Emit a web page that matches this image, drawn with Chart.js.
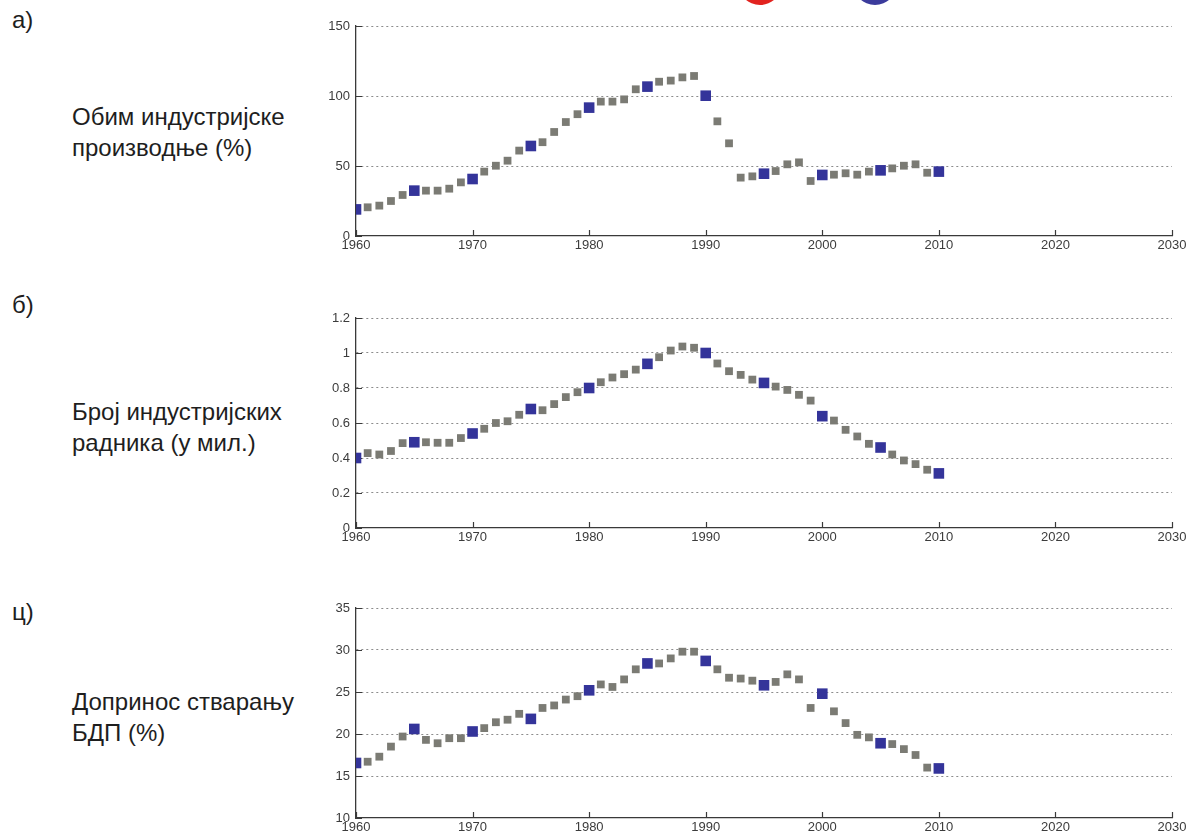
<!DOCTYPE html>
<html>
<head>
<meta charset="utf-8">
<script src="https://cdn.jsdelivr.net/npm/chart.js@4.4.1/dist/chart.umd.min.js"></script>
<style>
  body {
    margin: 0;
    width: 1190px;
    height: 838px;
    overflow: hidden;
    background: #fff;
    position: relative;
    font-family: 'Liberation Sans', Arial, sans-serif;
    color: #1e1e1e;
  }
  .letter { position: absolute; left: 12px; font-size: 24px; line-height: 26px; }
  .label { position: absolute; left: 72px; font-size: 24px; line-height: 31px; white-space: nowrap; }
  canvas { position: absolute; left: 0; }
  .marker { position: absolute; width: 44px; height: 44px; top: -39px; border-radius: 50%; }
</style>
</head>
<body>
<div class="marker" style="left:738px; background:#e2231f;"></div>
<div class="marker" style="left:853px; background:#3b3b9c;"></div>

<div class="letter" style="top:7px;">а)</div>
<div class="label" style="top:101px;">Обим индустријске<br>производње (%)</div>
<div class="letter" style="top:292px;">б)</div>
<div class="label" style="top:396px;">Број индустријских<br>радника (у мил.)</div>
<div class="letter" style="top:599px;">ц)</div>
<div class="label" style="top:686px;">Допринос стварању<br>БДП (%)</div>

<canvas id="chartA" width="1190" height="250" style="top:6px;"></canvas>
<canvas id="chartB" width="1190" height="250" style="top:298px;"></canvas>
<canvas id="chartC" width="1190" height="250" style="top:588px;"></canvas>

<script>
// godine 1960 - 2010
const years = [
  1960, 1961, 1962, 1963, 1964, 1965, 1966, 1967, 1968, 1969,
  1970, 1971, 1972, 1973, 1974, 1975, 1976, 1977, 1978, 1979,
  1980, 1981, 1982, 1983, 1984, 1985, 1986, 1987, 1988, 1989,
  1990, 1991, 1992, 1993, 1994, 1995, 1996, 1997, 1998, 1999,
  2000, 2001, 2002, 2003, 2004, 2005, 2006, 2007, 2008, 2009, 2010
];

// а) обим индустријске производње (%)
const industrialOutput = [
  19.0, 20.5, 21.7, 25.0, 29.3, 32.4, 32.4, 32.4, 33.8, 38.3,
  40.7, 46.0, 50.2, 53.8, 61.0, 64.3, 67.0, 74.3, 81.4, 87.0,
  91.7, 96.0, 96.0, 97.6, 104.8, 106.7, 110.2, 111.0, 113.3, 114.3,
  100.2, 81.9, 66.2, 41.7, 42.6, 44.5, 46.4, 51.2, 52.6, 39.3,
  43.6, 43.8, 44.8, 43.8, 46.0, 46.9, 48.3, 50.2, 51.2, 45.2, 46.0
];

// б) број индустријских радника (у мил.)
const industrialWorkers = [
  0.40, 0.428, 0.42, 0.44, 0.485, 0.49, 0.49, 0.487, 0.487, 0.514,
  0.54, 0.567, 0.60, 0.61, 0.647, 0.68, 0.673, 0.708, 0.748, 0.776,
  0.80, 0.833, 0.86, 0.879, 0.905, 0.938, 0.976, 1.014, 1.037, 1.03,
  1.0, 0.94, 0.896, 0.875, 0.848, 0.829, 0.808, 0.789, 0.761, 0.728,
  0.639, 0.614, 0.561, 0.523, 0.481, 0.46, 0.42, 0.386, 0.365, 0.333, 0.312
];

// ц) допринос стварању БДП (%)
const gdpShare = [
  16.55, 16.7, 17.3, 18.5, 19.7, 20.6, 19.3, 18.9, 19.5, 19.5,
  20.3, 20.7, 21.4, 21.7, 22.4, 21.8, 23.1, 23.4, 24.1, 24.5,
  25.2, 25.9, 25.6, 26.5, 27.7, 28.4, 28.4, 29.0, 29.8, 29.8,
  28.7, 27.7, 26.7, 26.6, 26.35, 25.8, 26.2, 27.1, 26.5, 23.1,
  24.8, 22.7, 21.3, 19.9, 19.6, 18.9, 18.8, 18.2, 17.5, 16.0, 15.9
];

const xTicks = [1960, 1970, 1980, 1990, 2000, 2010, 2020, 2030];
const ticksA = [0, 50, 100, 150];
const ticksB = [0, 0.2, 0.4, 0.6, 0.8, 1, 1.2];
const ticksC = [10, 15, 20, 25, 30, 35];

const GRAY = '#7b7b74';
const BLUE = '#34349a';
const AXIS = '#3a3a3a';

// male crtice na osama, okrenute ka unutra
const innerTicks = {
  id: 'innerTicks',
  beforeDatasetsDraw(chart) {
    const { ctx, chartArea, scales } = chart;
    ctx.save();
    ctx.strokeStyle = AXIS;
    ctx.lineWidth = 1.2;
    ctx.beginPath();
    scales.x.ticks.forEach(t => {
      const px = Math.round(scales.x.getPixelForValue(t.value)) + 0.5;
      ctx.moveTo(px, chartArea.bottom);
      ctx.lineTo(px, chartArea.bottom - 6);
    });
    scales.y.ticks.forEach(t => {
      const py = Math.round(scales.y.getPixelForValue(t.value)) + 0.5;
      ctx.moveTo(chartArea.left, py);
      ctx.lineTo(chartArea.left + 6, py);
    });
    ctx.stroke();
    ctx.restore();
  }
};

function makeChart(canvasId, values, yTicks) {
  const blue = [];
  const gray = [];
  years.forEach((yr, i) => {
    const pt = { x: yr, y: values[i] };
    if (yr % 5 === 0) blue.push(pt); else gray.push(pt);
  });

  return new Chart(document.getElementById(canvasId), {
    type: 'scatter',
    data: {
      datasets: [
        {
          data: blue,
          pointStyle: 'rect',
          pointRadius: 7.5,
          pointBackgroundColor: BLUE,
          pointBorderWidth: 0,
          pointHoverRadius: 7.5
        },
        {
          data: gray,
          pointStyle: 'rect',
          pointRadius: 5.5,
          pointBackgroundColor: GRAY,
          pointBorderWidth: 0,
          pointHoverRadius: 5.5
        }
      ]
    },
    options: {
      responsive: false,
      animation: false,
      layout: { padding: { top: 20, right: 18, bottom: 0, left: 0 } },
      plugins: {
        legend: { display: false },
        tooltip: { enabled: false }
      },
      scales: {
        x: {
          type: 'linear',
          min: xTicks[0],
          max: xTicks[xTicks.length - 1],
          afterBuildTicks: (scale) => { scale.ticks = xTicks.map(v => ({ value: v })); },
          afterFit: (scale) => { scale.height = 20; },
          grid: { display: false, drawTicks: false },
          border: { display: true, color: AXIS, width: 1.3 },
          ticks: {
            color: '#3c3c3c',
            padding: 2,
            maxRotation: 0,
            font: { family: 'Liberation Sans', size: 13 },
            callback: (v) => String(v)
          }
        },
        y: {
          min: yTicks[0],
          max: yTicks[yTicks.length - 1],
          afterBuildTicks: (scale) => { scale.ticks = yTicks.map(v => ({ value: v })); },
          afterFit: (scale) => { scale.width = 356; },
          grid: {
            drawTicks: false,
            lineWidth: 1,
            color: (c) => (c.index === 0 ? 'rgba(0,0,0,0)' : '#8c8c8c')
          },
          border: { display: true, color: AXIS, width: 1.3, dash: [2, 3] },
          ticks: {
            color: '#3c3c3c',
            padding: 6,
            font: { family: 'Liberation Sans', size: 13 },
            callback: (v) => String(v)
          }
        }
      }
    },
    plugins: [innerTicks]
  });
}

makeChart('chartA', industrialOutput, ticksA);
makeChart('chartB', industrialWorkers, ticksB);
makeChart('chartC', gdpShare, ticksC);
</script>
</body>
</html>
